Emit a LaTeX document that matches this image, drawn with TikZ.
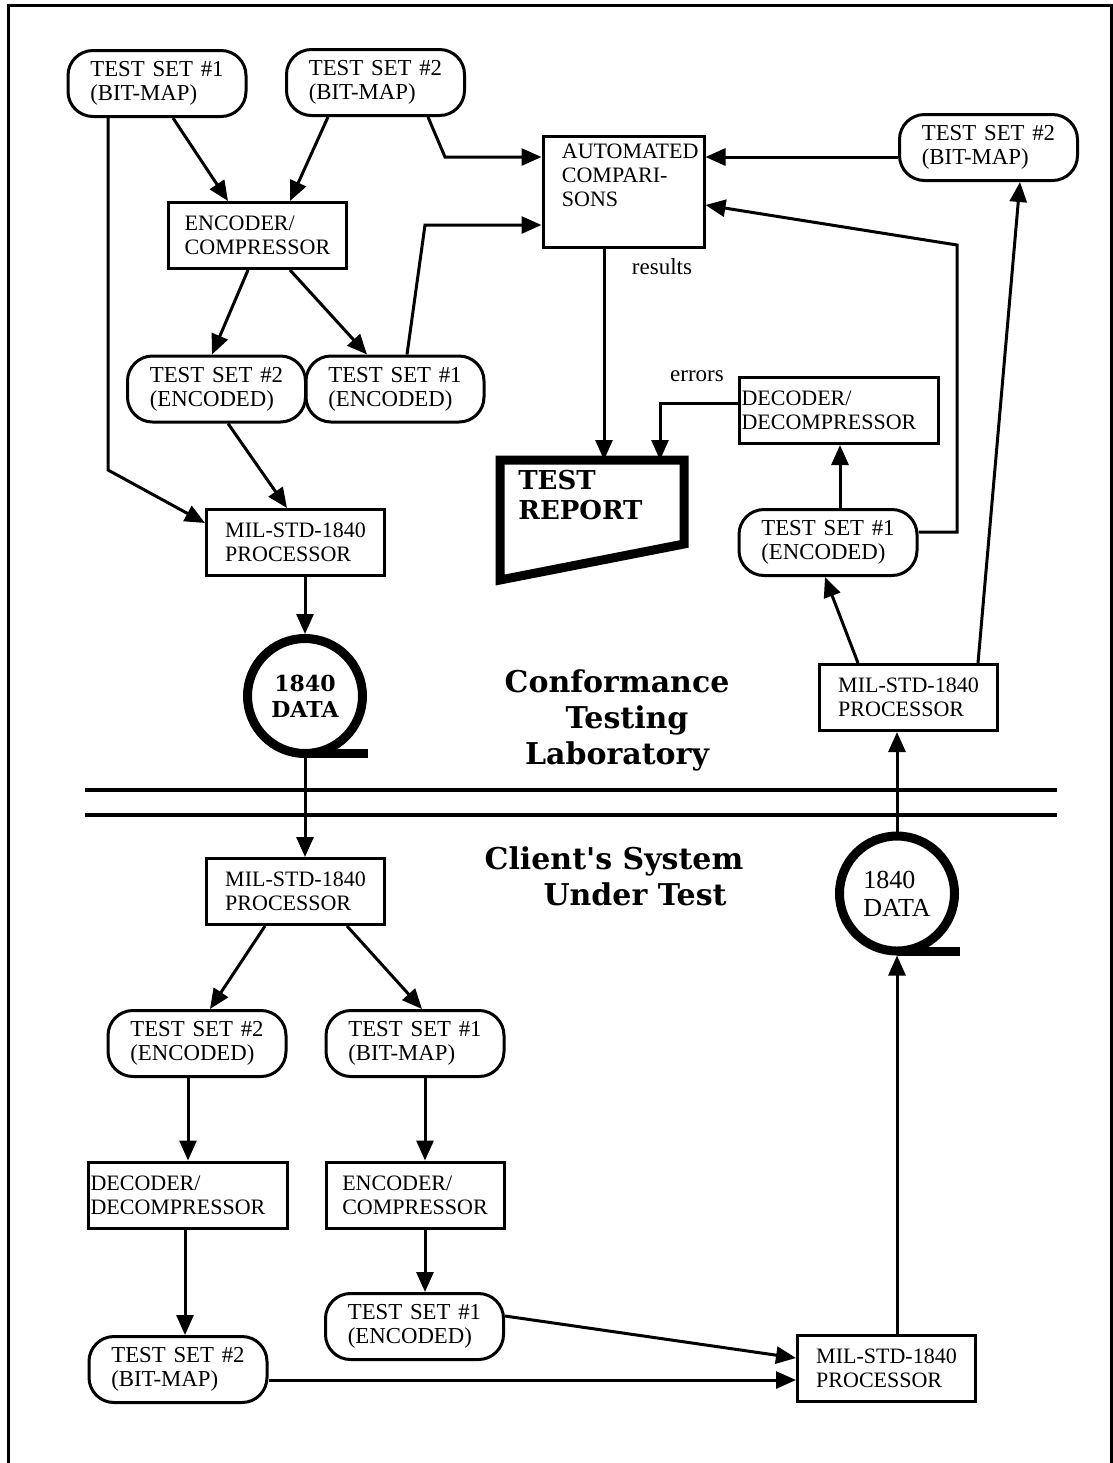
\documentclass[tikz,border=0pt]{standalone}
\usepackage{fontspec}
\setmainfont{Liberation Serif}
\newfontfamily\titlefont{DejaVu Serif}
\usetikzlibrary{arrows.meta,calc}
\newcommand\tsname[1]{TEST\hspace{0.34em}SET\hspace{0.34em}\##1}
\begin{document}
\begin{tikzpicture}[x=0.5pt,y=-0.5pt,
  conn/.style={line width=1.5pt,-{Triangle[length=10pt,width=8.5pt]}},
  txt/.style={font=\fontsize{11}{12}\selectfont, align=left},
  rbox/.style={draw, line width=1.5pt, rounded corners=12.5pt, minimum width=89pt, minimum height=33pt, font=\fontsize{11.4}{12}\selectfont, align=left, inner sep=0pt},
  sbox/.style={draw, line width=1.5pt, minimum width=89pt, minimum height=33pt, txt, inner sep=0pt},
  decbox/.style={sbox, minimum width=99.5pt, text width=97pt},
  tape/.style={circle, draw, line width=4.5pt, minimum size=57.5pt, inner sep=0pt},
  tail/.style={line width=4.5pt},
  title/.style={font=\titlefont\bfseries\fontsize{15}{18}\selectfont, align=center},
  lab/.style={font=\fontsize{11.5}{12}\selectfont, inner sep=0pt},
]
\useasboundingbox (0,0) rectangle (1113,1463);
% frame
\draw[line width=1.5pt] (8,1463) -- (8,5) -- (1111,5) -- (1111,1463);
% separator lines
\draw[line width=2pt] (85,790) -- (1057,790);
\draw[line width=2pt] (85,815) -- (1057,815);

% ---------- laboratory ----------
\node[rbox] (ts1bm) at (157,83.5) {\tsname{1}\\(BIT-MAP)};
\node[rbox] (ts2bm) at (375.5,82.5) {\tsname{2}\\(BIT-MAP)};
\node[sbox] (enc) at (257.5,235.5) {ENCODER/\\COMPRESSOR};
\node[sbox, minimum width=80.5pt, minimum height=55.5pt] (ac) at (623.5,191.5) {};
\node[txt, anchor=north west, inner sep=0pt] (actext) at ([xshift=10pt,yshift=-4.5pt]ac.north west) {AUTOMATED\\COMPARI-\\SONS};
\node[rbox] (ts2bmR) at (988.5,147.5) {\tsname{2}\\(BIT-MAP)};
\node[rbox] (ts2enc) at (216.5,389) {\tsname{2}\\(ENCODED)};
\node[rbox] (ts1enc) at (395,389) {\tsname{1}\\(ENCODED)};
\node[sbox] (proc1) at (295.5,542.5) {MIL-STD-1840\\PROCESSOR};
\node[tape, font=\titlefont\bfseries\fontsize{11}{13}\selectfont, align=center] (tape1) at (305,696) {1840\\DATA};
\draw[tail] ([yshift=2.25pt]tape1.south) -- ++(63,0);
\node[title] (lab1) at (617,720) {Conformance\\\hspace*{10pt}Testing\\Laboratory};

\node[minimum width=87.5pt, minimum height=55.5pt, inner sep=0pt, outer sep=2.25pt] (tr) at (592,520) {};
\draw[line width=4.5pt, line join=miter] (tr.north west) -- (tr.north east) -- ([yshift=18pt]tr.south east) -- (tr.south west) -- cycle;
\node[anchor=north west, inner sep=0pt, align=left, font=\titlefont\bfseries\fontsize{13}{15}\selectfont] (trtext) at ([xshift=9pt,yshift=-5pt]tr.north west) {TEST\\REPORT};

\node[decbox] (dec) at (838.5,410.5) {DECODER/\\DECOMPRESSOR};
\node[rbox] (ts1encR) at (828,542.5) {\tsname{1}\\(ENCODED)};
\node[sbox] (proc2) at (908.5,697.5) {MIL-STD-1840\\PROCESSOR};
\node[lab] (res) at (662,267) {results};
\node[lab] (err) at (697,376) {errors};

% ---------- client ----------
\node[sbox] (proc3) at (295.5,891.5) {MIL-STD-1840\\PROCESSOR};
\node[title] (lab2) at (614,876) {Client's System\\\hspace*{21pt}Under Test};
\node[tape, font=\fontsize{13}{14}\selectfont, align=left] (tape2) at (897,893.5) {1840\\DATA};
\draw[tail] ([yshift=2.25pt]tape2.south) -- ++(63,0);
\node[rbox] (ts2encB) at (197,1043.5) {\tsname{2}\\(ENCODED)};
\node[rbox] (ts1bmB) at (415,1043.5) {\tsname{1}\\(BIT-MAP)};
\node[decbox] (decB) at (187.5,1195) {DECODER/\\DECOMPRESSOR};
\node[sbox] (encB) at (415,1195) {ENCODER/\\COMPRESSOR};
\node[rbox] (ts1encB) at (414.5,1326.5) {\tsname{1}\\(ENCODED)};
\node[rbox] (ts2bmB) at (178,1369.5) {\tsname{2}\\(BIT-MAP)};
\node[sbox] (proc4) at (886.5,1368.5) {MIL-STD-1840\\PROCESSOR};

% ---------- connectors (lab) ----------
\draw[conn] ([xshift=-24.5pt]ts1bm.south) -- (108,470) -- ([yshift=9.75pt]proc1.west);
\draw[conn] ([xshift=8pt]ts1bm.south) -- ([xshift=-14.75pt]enc.north);
\draw[conn] ([xshift=-23.75pt]ts2bm.south) -- ([xshift=16.25pt]enc.north);
\draw[conn] ([xshift=26.25pt]ts2bm.south) -- (445,157) -- ([yshift=17.25pt]ac.west);
\draw[conn] ([xshift=-4.75pt]enc.south) -- ([xshift=-2.25pt]ts2enc.north);
\draw[conn] ([xshift=16.25pt]enc.south) -- ([xshift=-14pt]ts1enc.north);
\draw[conn] ([xshift=6pt]ts1enc.north) -- (425,225) -- ([yshift=-16.75pt]ac.west);
\draw[conn] ([xshift=5.75pt]ts2enc.south) -- ([xshift=-4.25pt]proc1.north);
\draw[conn] (proc1.south -| tape1.north) -- (tape1.north);
\draw[conn] ([yshift=-4.75pt]ts2bmR.west) -- ([yshift=-4.75pt]ts2bmR.west -| ac.east);
\draw[conn] ([yshift=5.25pt]ts1encR.east) -| (957,245) -- ([yshift=-6.75pt]ac.east);
\draw[conn] ([xshift=-9.75pt]ac.south) -- ([xshift=-9.75pt]ac.south |- tr.north);
\draw[conn] ([yshift=3.75pt]dec.west) -| ([xshift=34pt]tr.north);
\draw[conn] ([xshift=6pt]ts1encR.north) -- ([xshift=6pt]ts1encR.north |- dec.south);
\draw[conn] ([xshift=-25.25pt]proc2.north) -- ([xshift=-1.5pt]ts1encR.south);
\draw[conn] ([xshift=34.75pt]proc2.north) -- ([xshift=15.75pt]ts2bmR.south);
% crossing
\draw[conn] (tape1.south) -- (tape1.south |- proc3.north);
\draw[conn] (tape2.north) -- (tape2.north |- proc2.south);
% ---------- connectors (client) ----------
\draw[conn] ([xshift=-15.25pt]proc3.south) -- ([xshift=6.5pt]ts2encB.north);
\draw[conn] ([xshift=25.75pt]proc3.south) -- ([xshift=3.5pt]ts1bmB.north);
\draw[conn] ([xshift=-4.5pt]ts2encB.south) -- ([xshift=-4.5pt]ts2encB.south |- decB.north);
\draw[conn] ([xshift=5pt]ts1bmB.south) -- ([xshift=5pt]ts1bmB.south |- encB.north);
\draw[conn] ([xshift=-1.25pt]decB.south) -- ([xshift=-1.25pt]decB.south |- ts2bmB.north);
\draw[conn] ([xshift=5pt]encB.south) -- ([xshift=5pt]encB.south |- ts1encB.north);
\draw[conn] ([yshift=5.25pt]ts1encB.east) -- ([yshift=5.25pt]proc4.west);
\draw[conn] ([yshift=-5.25pt]ts2bmB.east) -- ([yshift=-5.25pt]ts2bmB.east -| proc4.west);
\draw[conn] (proc4.north -| tape2.south) -- (tape2.south);
\end{tikzpicture}
\end{document}
